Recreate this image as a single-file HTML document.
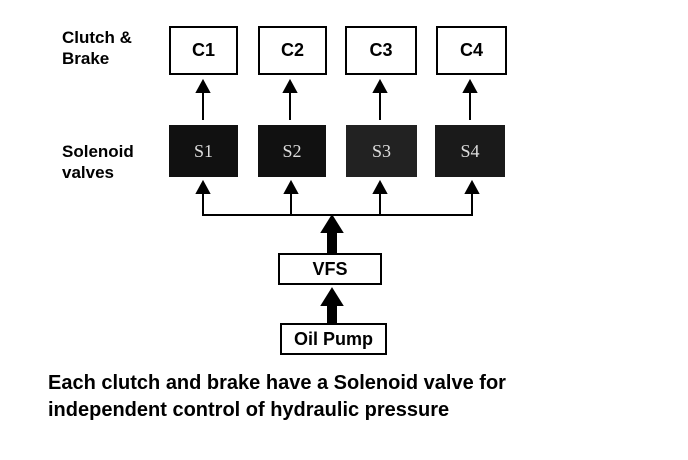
<!DOCTYPE html><html><head><style>
body{margin:0;background:#fff;width:688px;height:460px;position:relative;font-family:"Liberation Sans",Arial,sans-serif;overflow:hidden}
.t{position:absolute;font-size:17px;color:#000;line-height:21px;font-weight:bold}
.b{position:absolute;box-sizing:border-box;border:2px solid #000;background:#fff;display:flex;align-items:center;justify-content:center;font-size:18px;font-weight:bold}
.s{background:#111;color:#ddd;font-family:"Liberation Serif",serif;border:none;font-size:18px;font-weight:normal}
</style></head><body>
<div class="t" style="left:62px;top:27px">Clutch &amp;<br>Brake</div>
<div class="t" style="left:62px;top:141px">Solenoid<br>valves</div>
<div class="b" style="left:169px;top:26px;width:69px;height:49px">C1</div>
<div class="b" style="left:258px;top:26px;width:69px;height:49px">C2</div>
<div class="b" style="left:345px;top:26px;width:72px;height:49px">C3</div>
<div class="b" style="left:436px;top:26px;width:71px;height:49px">C4</div>
<div class="b s" style="left:169px;top:125px;width:69px;height:52px">S1</div>
<div class="b s" style="left:258px;top:125px;width:68px;height:52px">S2</div>
<div class="b s" style="left:346px;top:125px;width:71px;height:52px;background:#222">S3</div>
<div class="b s" style="left:435px;top:125px;width:70px;height:52px;background:#1a1a1a">S4</div>
<div class="b" style="left:278px;top:253px;width:104px;height:32px">VFS</div>
<div class="b" style="left:280px;top:323px;width:107px;height:32px">Oil Pump</div>
<svg width="688" height="460" style="position:absolute;left:0;top:0">
<g stroke="#000" stroke-width="2" fill="#000">
<line x1="203" y1="90" x2="203" y2="120"/><polygon points="197,92 209,92 203,81"/>
<line x1="290" y1="90" x2="290" y2="120"/><polygon points="284,92 296,92 290,81"/>
<line x1="380" y1="90" x2="380" y2="120"/><polygon points="374,92 386,92 380,81"/>
<line x1="470" y1="90" x2="470" y2="120"/><polygon points="464,92 476,92 470,81"/>
<polyline fill="none" points="203,190 203,215 472,215 472,190"/>
<line x1="291" y1="190" x2="291" y2="215"/><line x1="380" y1="190" x2="380" y2="215"/>
<polygon points="197,193 209,193 203,182"/><polygon points="285,193 297,193 291,182"/>
<polygon points="374,193 386,193 380,182"/><polygon points="466,193 478,193 472,182"/>
<polygon points="322,232 342,232 332,216"/><rect x="327" y="231" width="10" height="22" stroke="none"/>
<polygon points="322,305 342,305 332,289"/><rect x="327" y="304" width="10" height="19" stroke="none"/>
</g></svg>
<div class="t" style="left:48px;top:370px;font-size:20px;line-height:27px;white-space:nowrap">Each clutch and brake have a Solenoid valve for<br>independent control of hydraulic pressure</div>
</body></html>
